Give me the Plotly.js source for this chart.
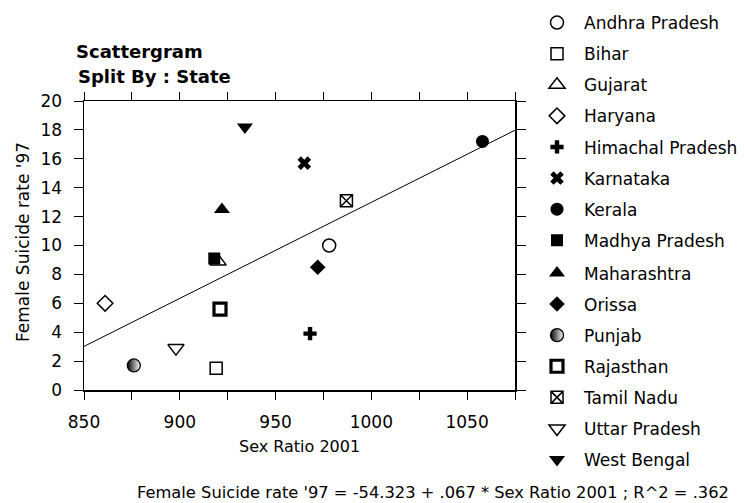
<!DOCTYPE html>
<html>
<head>
<meta charset="utf-8">
<script src="https://cdn.plot.ly/plotly-3.0.1.min.js"></script>
<style>html,body{margin:0;padding:0;background:#fff;}#chart{width:744px;height:503px;}</style>
</head>
<body>
<div id="chart"></div>
<script>
// ---- data ----
const states = ["Andhra Pradesh","Bihar","Gujarat","Haryana","Himachal Pradesh","Karnataka","Kerala","Madhya Pradesh","Maharashtra","Orissa","Punjab","Rajasthan","Tamil Nadu","Uttar Pradesh","West Bengal"];
const sexRatio2001 = [978, 919, 920, 861, 968, 965, 1058, 918, 922, 972, 876, 921, 987, 898, 934];
const femaleSuicideRate97 = [10.0, 1.5, 8.9, 6.0, 3.9, 15.7, 17.2, 9.1, 12.5, 8.5, 1.7, 5.6, 13.1, 2.9, 18.2];
const symbols = ["circle-open","square-open","triangle-up-open","diamond-open","cross","x","circle","square","triangle-up","diamond","circle","square-open","square-x-open","triangle-down-open","triangle-down"];
const xTickVals = [850,875,900,925,950,975,1000,1025,1050,1075];
const xTickText = ["850","","900","","950","","1000","","1050",""];
const yTickVals = [0,2,4,6,8,10,12,14,16,18,20];
const equationText = "Female Suicide rate '97 = -54.323 + .067 * Sex Ratio 2001 ; R^2 = .362";

// least squares fit computed from the data
const n = sexRatio2001.length;
const mx = sexRatio2001.reduce((a,b)=>a+b,0)/n;
const my = femaleSuicideRate97.reduce((a,b)=>a+b,0)/n;
let sxy = 0, sxx = 0;
for (let i=0;i<n;i++){ sxy += (sexRatio2001[i]-mx)*(femaleSuicideRate97[i]-my); sxx += (sexRatio2001[i]-mx)**2; }
const slope = sxy/sxx, intercept = my - slope*mx;
const xRange = [850, 1075];

const FONT = "DejaVu Sans, Verdana, sans-serif";
const sizeFor = {"circle": 13, "square": 12, "triangle": 14, "diamond": 12, "cross": 11, "x": 12};
const traces = [{
  x: xRange, y: xRange.map(v => intercept + slope*v),
  mode: "lines", line: {color: "#000", width: 1}, showlegend: false, hoverinfo: "skip"
}];
states.forEach((s, i) => {
  const sym = symbols[i];
  const open = sym.indexOf("open") >= 0;
  const base = sym.split("-")[0];
  const marker = {symbol: sym, size: sizeFor[base] || 12, color: "#000", line: {color: "#000", width: open ? 1.5 : 0}};
  if (s === "Rajasthan") { marker.line.width = 3.2; }
  if (s === "Punjab") { marker.gradient = {type: "horizontal", color: "#fff"}; marker.line = {color: "#000", width: 1.3}; }
  traces.push({
    x: [sexRatio2001[i]], y: [femaleSuicideRate97[i]], name: s, legendgroup: s,
    legend: i < 8 ? "legend" : "legend2",
    mode: "markers", marker: marker
  });
});

const L = 84, R = 515, T = 101, B = 390;
const px = v => (v - L) / (R - L);
const py = v => (B - v) / (B - T);
const ITEM = 31.3, LEG_TOP = 5;

const legendStyle = (topPx) => ({
  x: px(530), xanchor: "left", yref: "container", y: 1 - topPx/503, yanchor: "top",
  font: {family: FONT, size: 17, color: "#000"}, tracegroupgap: 6, itemwidth: 44,
  bgcolor: "rgba(0,0,0,0)", borderwidth: 0
});

const layout = {
  width: 744, height: 503,
  margin: {l: L, r: 744 - R, t: T, b: 503 - B, pad: 0, autoexpand: false},
  paper_bgcolor: "#fff", plot_bgcolor: "#fff",
  font: {family: FONT, size: 16, color: "#000"},
  title: {text: "Scattergram", font: {family: FONT, size: 18, weight: "bold", color: "#000"},
          xref: "container", x: 76/744, xanchor: "left", yref: "container", y: 1 - 52/503, yanchor: "middle"},
  xaxis: {range: xRange, tickmode: "array", tickvals: xTickVals, ticktext: xTickText,
          ticks: "outside", ticklen: 8, tickwidth: 1, tickcolor: "#000",
          showline: true, linecolor: "#000", linewidth: 1.5, mirror: "ticks",
          showgrid: false, zeroline: false, ticklabelstandoff: 8,
          tickfont: {family: FONT, size: 17, color: "#000"}},
  yaxis: {range: [0, 20], tickmode: "array", tickvals: yTickVals,
          ticks: "outside", ticklen: 9, tickwidth: 1, tickcolor: "#000",
          showline: true, linecolor: "#000", linewidth: 1.5, mirror: "ticks",
          showgrid: false, zeroline: false, ticklabelstandoff: 8,
          tickfont: {family: FONT, size: 17, color: "#000"}},
  legend: legendStyle(LEG_TOP),
  legend2: legendStyle(LEG_TOP + 8*ITEM),
  annotations: [
    {text: "Split By : State", xref: "paper", yref: "paper", x: px(76), y: py(76), xanchor: "left", yanchor: "middle",
     showarrow: false, font: {family: FONT, size: 18, weight: "bold", color: "#000"}},
    {text: "Sex Ratio 2001", xref: "paper", yref: "paper", x: 0.5, y: py(446), xanchor: "center", yanchor: "middle",
     showarrow: false, font: {family: FONT, size: 16, color: "#000"}},
    {text: "Female Suicide rate '97", xref: "paper", yref: "paper", x: px(23), y: py(242), xanchor: "center", yanchor: "middle",
     textangle: -90, showarrow: false, font: {family: FONT, size: 17, color: "#000"}},
    {text: equationText, xref: "paper", yref: "paper", x: px(433), y: py(492), xanchor: "center", yanchor: "middle",
     showarrow: false, font: {family: FONT, size: 16.3, color: "#000"}}
  ]
};

Plotly.newPlot("chart", traces, layout, {displayModeBar: false, staticPlot: true});
</script>
</body>
</html>
